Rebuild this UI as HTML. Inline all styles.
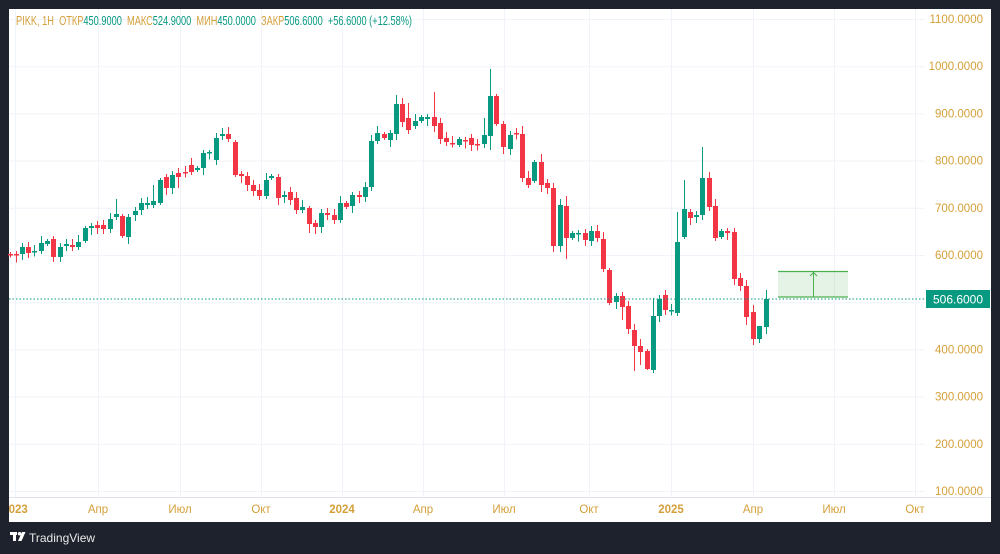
<!DOCTYPE html>
<html><head><meta charset="utf-8"><style>
html,body{margin:0;padding:0;background:#1e222d;width:1000px;height:554px;overflow:hidden}
svg{display:block}
text{font-family:"Liberation Sans","DejaVu Sans",sans-serif;white-space:pre}
</style></head><body>
<svg id="s" width="1000" height="554" xmlns="http://www.w3.org/2000/svg">
<defs><clipPath id="cp"><rect x="9" y="9" width="982" height="513"/></clipPath></defs>
<rect x="0" y="0" width="1000" height="554" fill="#1e222d"/>
<rect x="9" y="9" width="982" height="513" fill="#ffffff"/>
<g id="grid"></g>
<g id="candles"></g>
<line x1="9" y1="299" x2="925" y2="299" stroke="#089981" stroke-width="1" stroke-dasharray="1.5,2"/>
<rect x="778" y="271" width="70" height="26" fill="#4caf50" fill-opacity="0.15"/>
<line x1="778" y1="271.5" x2="848" y2="271.5" stroke="#4caf50" stroke-width="1.2"/>
<line x1="778" y1="297" x2="848" y2="297" stroke="#4caf50" stroke-width="1.2"/>
<line x1="813.5" y1="297" x2="813.5" y2="273" stroke="#4caf50" stroke-width="1"/>
<polyline points="810,276 813.5,272.5 817,276" fill="none" stroke="#4caf50" stroke-width="1"/>
<line x1="9" y1="497.5" x2="991" y2="497.5" stroke="#e0e3eb" stroke-width="1"/>
<g id="labels" font-size="11.5" fill="#d4a03a" clip-path="url(#cp)"></g>
<rect x="926" y="290" width="64" height="18" fill="#089981"/>
<text x="958" y="303.5" text-anchor="middle" font-size="12" fill="#fff">506.6000</text>
<text x="16" y="25" font-size="12.5" textLength="396" lengthAdjust="spacingAndGlyphs" xml:space="preserve"><tspan fill="#d4a03a">PIKK, 1Н  ОТКР</tspan><tspan fill="#089981">450.9000</tspan><tspan fill="#d4a03a">  МАКС</tspan><tspan fill="#089981">524.9000</tspan><tspan fill="#d4a03a">  МИН</tspan><tspan fill="#089981">450.0000</tspan><tspan fill="#d4a03a">  ЗАКР</tspan><tspan fill="#089981">506.6000  +56.6000 (+12.58%)</tspan></text>
<g transform="translate(10,532)" fill="#fff">
<rect x="0" y="0" width="7" height="3"/><rect x="3" y="0" width="3" height="9"/>
<circle cx="9.5" cy="1.7" r="1.7"/><polygon points="12,0 15.5,0 11.5,9 8,9"/>
</g>
<text x="29" y="542" font-size="12" fill="#e8e8e8">TradingView</text>
</svg>
<script>
var NS="http://www.w3.org/2000/svg";
function el(p,t,a,txt){var e=document.createElementNS(NS,t);for(var k in a)e.setAttribute(k,a[k]);if(txt)e.textContent=txt;p.appendChild(e);return e;}
var g=document.getElementById('grid'),lb=document.getElementById('labels'),cg=document.getElementById('candles');
for(var p=100;p<=1100;p+=100){var y=19+(1100-p)*0.472;
el(g,'line',{x1:9,x2:925,y1:y+0.5,y2:y+0.5,stroke:'#f0f3fa','stroke-width':1});
el(lb,'text',{x:983,y:y+4,'text-anchor':'end'},p.toFixed(4));}
var tl=[[15,'2023'],[98,'Апр'],[180,'Июл'],[261,'Окт'],[342,'2024'],[423,'Апр'],[504,'Июл'],[589,'Окт'],[671,'2025'],[753,'Апр'],[834,'Июл'],[915,'Окт']];
tl.forEach(function(t){el(g,'line',{x1:t[0]+0.5,x2:t[0]+0.5,y1:9,y2:497,stroke:'#f0f3fa','stroke-width':1});
var w=(t[1]=='2023'||t[1]=='2024'||t[1]=='2025');
el(lb,'text',{x:t[0],y:513,'text-anchor':'middle','font-weight':w?'bold':'normal'},t[1]);});
var d=[[10,254,254],[16,254,255],[22,254,247],[28,247,253],[34,252,251],[41,251,243],[47,244,241],[53,239,257],[60,257,247],[66,246,244],[72,245,247],[78,247,242],[85,241,228],[91,228,226],[97,225,228],[103,225,229],[110,229,219],[116,217,214],[122,216,236],[128,237,217],[135,215,211],[141,210,203],[147,205,203],[153,205,201],[160,203,180],[166,177,188],[172,188,175],[178,173,177],[185,172,172],[191,165,172],[197,170,168],[203,168,153],[209,153,152],[216,160,138],[222,136,134],[228,134,139],[235,142,175],[241,174,176],[247,176,185],[253,185,191],[259,190,196],[266,196,180],[271,178,176],[278,177,198],[284,197,195],[290,192,200],[296,198,210],[302,210,207],[309,208,224],[315,223,227],[321,227,213],[327,213,215],[334,215,220],[340,220,203],[346,203,207],[352,206,195],[359,195,197],[365,197,187],[371,187,141],[377,141,133],[384,134,138],[390,140,133],[396,134,104],[402,104,122],[408,118,130],[415,126,121],[421,121,117],[427,119,117],[434,117,126],[440,123,139],[446,138,142],[452,143,144],[459,145,139],[465,140,140],[471,138,145],[477,144,144],[484,144,135],[490,136,96],[496,96,124],[503,124,147],[510,149,135],[516,133,134],[522,134,178],[528,178,185],[534,181,162],[541,162,185],[547,183,188],[553,188,246],[560,246,205],[566,206,238],[572,238,233],[578,234,233],[585,233,240],[591,241,231],[597,231,238],[603,239,269],[609,270,303],[616,302,296],[622,296,307],[628,306,329],[634,330,346],[640,346,352],[647,351,369],[653,370,316],[659,316,299],[665,295,310],[671,311,310],[677,313,242],[684,237,209],[690,212,218],[696,217,215],[702,215,178],[709,178,207],[715,206,238],[721,237,231],[727,231,233],[734,232,279],[740,278,286],[746,286,317],[753,312,339],[759,339,326],[766,327,299]];
var hi={396:95,490:69,702:147,484:118,434:92,416:97,226:127,220:127,209:150,153:185,116:199,522:126,541:154,566:196,677:212,684:180,759:338,766:290,603:232,653:298,408:103,402:98,378:130};
var lo={653:373,634:371,640:365,647:370,490:150,566:259,553:252,560:252,409:150,622:320,746:325,753:345,759:343,309:233,315:234,60:262,53:262,122:238,178:188};
d.forEach(function(c,i){var up=c[2]<c[1];var col=up?'#089981':'#f23645';
var t=Math.min(c[1],c[2]),b=Math.max(c[1],c[2]);if(b-t<1.5){b=t+1.5;}
var h=hi[c[0]]!==undefined?hi[c[0]]:t-2-((i*7)%6);
var l=lo[c[0]]!==undefined?lo[c[0]]:b+2+((i*5)%6);
el(cg,'line',{x1:c[0]+0.5,x2:c[0]+0.5,y1:h,y2:l,stroke:col,'stroke-width':1});
el(cg,'rect',{x:c[0]-2,y:t,width:5,height:b-t,fill:col});});
</script>
</body></html>
